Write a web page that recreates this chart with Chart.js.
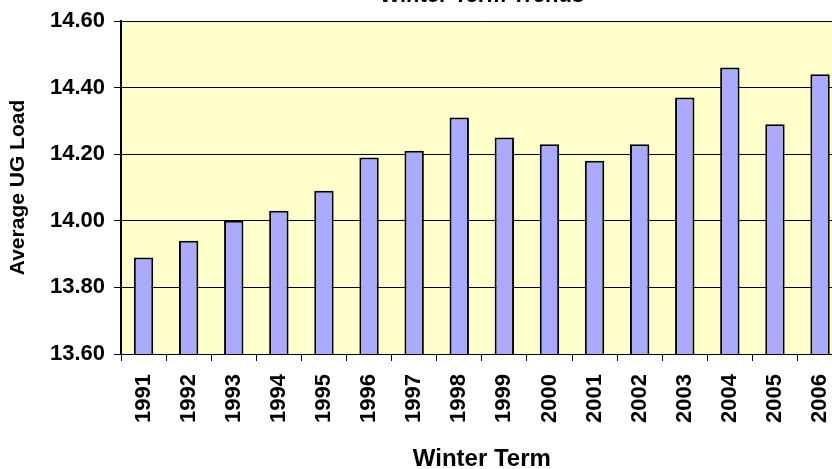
<!DOCTYPE html>
<html>
<head>
<meta charset="utf-8">
<script src="https://cdn.jsdelivr.net/npm/chart.js@4/dist/chart.umd.min.js"></script>
<style>
  html, body { margin: 0; padding: 0; background: #fff; overflow: hidden; }
  body { width: 832px; height: 469px; position: relative; }
  #chart { position: absolute; left: 0; top: -20px; }
</style>
</head>
<body>
<canvas id="chart" width="860" height="500"></canvas>
<script>
'use strict';

// ── 데이터 ────────────────────────────────────────────
const terms = ['1991','1992','1993','1994','1995','1996','1997','1998',
               '1999','2000','2001','2002','2003','2004','2005','2006'];
const avgLoad = [13.89, 13.94, 14.00, 14.03, 14.09, 14.19, 14.21, 14.31,
                 14.25, 14.23, 14.18, 14.23, 14.37, 14.46, 14.29, 14.44];
const yMin = 13.6, yMax = 14.6, yStep = 0.2;

const FONT = '"Liberation Sans", Arial, Helvetica, sans-serif';

// 플롯 영역 배경 (연노랑)
const plotBg = {
  id: 'plotBg',
  beforeDraw(chart) {
    const { ctx, chartArea: a } = chart;
    ctx.save();
    ctx.fillStyle = '#ffffcc';
    ctx.fillRect(a.left, a.top, a.right - a.left, a.bottom - a.top);
    ctx.restore();
  }
};

new Chart(document.getElementById('chart'), {
  type: 'bar',
  data: {
    labels: terms,
    datasets: [{
      data: avgLoad,
      backgroundColor: '#aaaaff',
      borderColor: '#000000',
      borderWidth: 2,
      barPercentage: 0.43,
      categoryPercentage: 1.0,
    }]
  },
  options: {
    responsive: false,
    animation: false,
    devicePixelRatio: 1,
    layout: { padding: 0 },
    plugins: {
      legend: { display: false },
      tooltip: { enabled: false },
      title: {
        display: true,
        text: 'Winter Term Trends',
        fullSize: false,
        color: '#000',
        font: { family: FONT, size: 22, weight: 'bold', lineHeight: 1 },
        padding: { top: 5, bottom: 14 },
      }
    },
    scales: {
      x: {
        grid: {
          display: true,
          drawOnChartArea: false,
          offset: true,
          color: '#000',
          tickLength: 7,
          lineWidth: 1,
        },
        border: { display: true, color: '#000', width: 1 },
        ticks: {
          color: '#000',
          minRotation: 90,
          maxRotation: 90,
          padding: 13,
          autoSkip: false,
          font: { family: FONT, size: 22, weight: 'bold' },
        },
        title: {
          display: true,
          text: 'Winter Term',
          color: '#000',
          font: { family: FONT, size: 24, weight: 'bold', lineHeight: 1 },
          padding: { top: 0, bottom: 9 },
        },
        afterFit(scale) { scale.height = 126; }
      },
      y: {
        min: yMin,
        max: yMax,
        grid: {
          color: '#000',
          tickLength: 7,
          lineWidth: 1,
        },
        border: { display: true, color: '#000', width: 2 },
        ticks: {
          stepSize: yStep,
          color: '#000',
          padding: 9,
          font: { family: FONT, size: 22, weight: 'bold' },
          callback: v => Number(v).toFixed(2),
        },
        title: {
          display: true,
          text: 'Average UG Load',
          color: '#000',
          font: { family: FONT, size: 21, weight: 'bold', lineHeight: 1 },
          padding: { top: 8, bottom: 0 },
        },
        afterFit(scale) { scale.width = 121; }
      }
    }
  },
  plugins: [plotBg]
});
</script>
</body>
</html>
